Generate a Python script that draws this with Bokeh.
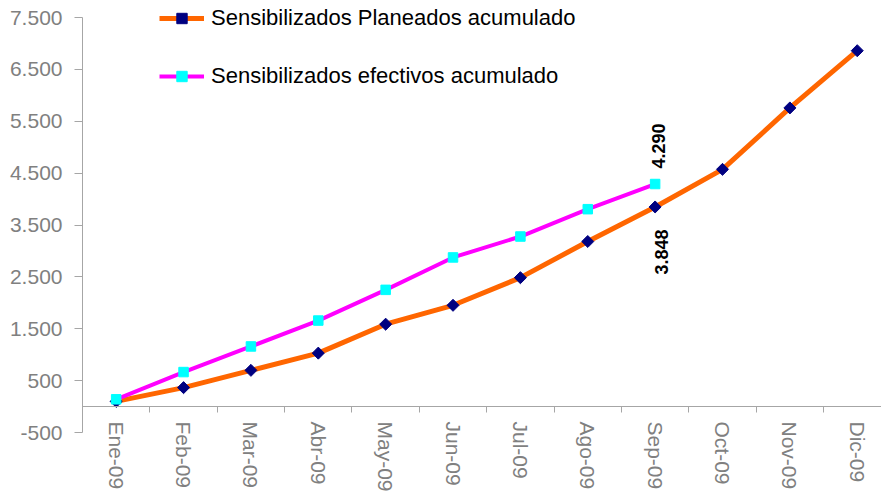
from math import pi
from bokeh.plotting import figure
from bokeh.models import Range1d, FixedTicker, Legend, LegendItem, LinearAxis
from bokeh.core.properties import value
from bokeh.embed import file_html
from bokeh.resources import INLINE

# ---- data ----
meses = ["Ene-09", "Feb-09", "Mar-09", "Abr-09", "May-09", "Jun-09",
         "Jul-09", "Ago-09", "Sep-09", "Oct-09", "Nov-09", "Dic-09"]
planeados = [100, 365, 698, 1030, 1588, 1952, 2485, 3182, 3848, 4573, 5757, 6860]
efectivos = [140, 665, 1159, 1658, 2250, 2875, 3278, 3805, 4290]
y_ticks = [-500, 500, 1500, 2500, 3500, 4500, 5500, 6500, 7500]
serie_planeados = "Sensibilizados Planeados acumulado"
serie_efectivos = "Sensibilizados efectivos acumulado"

FONT = "Liberation Sans"


def fmt(v):
    return f"{v:,}".replace(",", ".")


x_plan = list(range(len(planeados)))
x_efec = list(range(len(efectivos)))

# frame spans the whole height above the month labels; the axis line is
# bounded to the tick range (-500 .. 7500)
p = figure(width=881, height=495, output_backend="svg", toolbar_location=None,
           x_range=Range1d(-0.5, 11.36), y_range=Range1d(-500, 7828),
           x_axis_location=None,
           min_border_left=82, min_border_right=0, min_border_top=0,
           min_border_bottom=63)
p.outline_line_color = None
p.xgrid.visible = False
p.ygrid.visible = False
p.background_fill_color = "white"

axis_grey = "#A6A6A6"
label_grey = "#808080"

# y axis
ya = p.yaxis[0]
ya.ticker = FixedTicker(ticks=y_ticks)
ya.bounds = (y_ticks[0], y_ticks[-1])
ya.major_label_overrides = {t: fmt(t) for t in y_ticks}
ya.major_label_text_font = FONT
ya.major_label_text_font_size = "21px"
ya.major_label_text_color = label_grey
ya.axis_line_color = axis_grey
ya.major_tick_line_color = axis_grey
ya.major_tick_out = 8
ya.major_tick_in = 0
ya.minor_tick_out = 0
ya.minor_tick_in = 0
ya.major_label_standoff = 12

# x axis line + boundary ticks crossing at zero
xline = LinearAxis(fixed_location=0,
                   ticker=FixedTicker(ticks=[-100],
                                      minor_ticks=[i + 0.5 for i in range(len(meses) - 1)]))
xline.axis_line_color = axis_grey
xline.major_tick_out = 0
xline.major_tick_in = 0
xline.minor_tick_out = 6
xline.minor_tick_in = 0
xline.minor_tick_line_color = axis_grey
xline.major_label_text_alpha = 0
p.add_layout(xline, "below")

# month labels in the bottom panel
xlab = LinearAxis(ticker=FixedTicker(ticks=list(range(len(meses)))))
xlab.major_label_overrides = {i: m for i, m in enumerate(meses)}
xlab.major_label_orientation = "vertical"
xlab.major_label_text_font = FONT
xlab.major_label_text_font_size = "21px"
xlab.major_label_text_color = label_grey
xlab.axis_line_color = None
xlab.major_tick_line_color = None
xlab.minor_tick_line_color = None
xlab.major_tick_out = 0
xlab.major_tick_in = 0
xlab.minor_tick_out = 0
xlab.minor_tick_in = 0
xlab.major_label_standoff = -11
p.add_layout(xlab, "below")

# series
l1 = p.line(x_plan, planeados, line_color="#FF6600", line_width=5, line_join="round")
m1 = p.scatter(x_plan, planeados, marker="square", angle=pi / 4, size=8.5,
               fill_color="#000080", line_color="#000080")
l2 = p.line(x_efec, efectivos, line_color="#FF00FF", line_width=4, line_join="round")
m2 = p.scatter(x_efec, efectivos, marker="square", size=9.5,
               fill_color="#00FFFF", line_color="#00FFFF")

# data labels at the last "efectivos" month
k = len(efectivos) - 1
p.text(x=[k], y=[efectivos[k]], text=[fmt(efectivos[k])], angle=pi / 2,
       text_font=value(FONT), text_font_size="18px", text_font_style="bold",
       text_color="black", text_align="center", text_baseline="middle",
       x_offset=3, y_offset=-38)
p.text(x=[k], y=[planeados[k]], text=[fmt(planeados[k])], angle=pi / 2,
       text_font=value(FONT), text_font_size="18px", text_font_style="bold",
       text_color="black", text_align="center", text_baseline="middle",
       x_offset=6, y_offset=45)

legend = Legend(items=[LegendItem(label=serie_planeados, renderers=[l1, m1]),
                       LegendItem(label=serie_efectivos, renderers=[l2, m2])],
                location=(77, 343))
legend.label_text_font = FONT
legend.label_text_font_size = "22px"
legend.label_text_color = "black"
legend.glyph_width = 45
legend.glyph_height = 26
legend.label_height = 26
legend.label_standoff = 7
legend.spacing = 32
legend.padding = 0
legend.margin = 0
legend.border_line_alpha = 0
legend.background_fill_alpha = 0
p.add_layout(legend, "center")

open("out.html", "w").write(file_html(p, INLINE))
